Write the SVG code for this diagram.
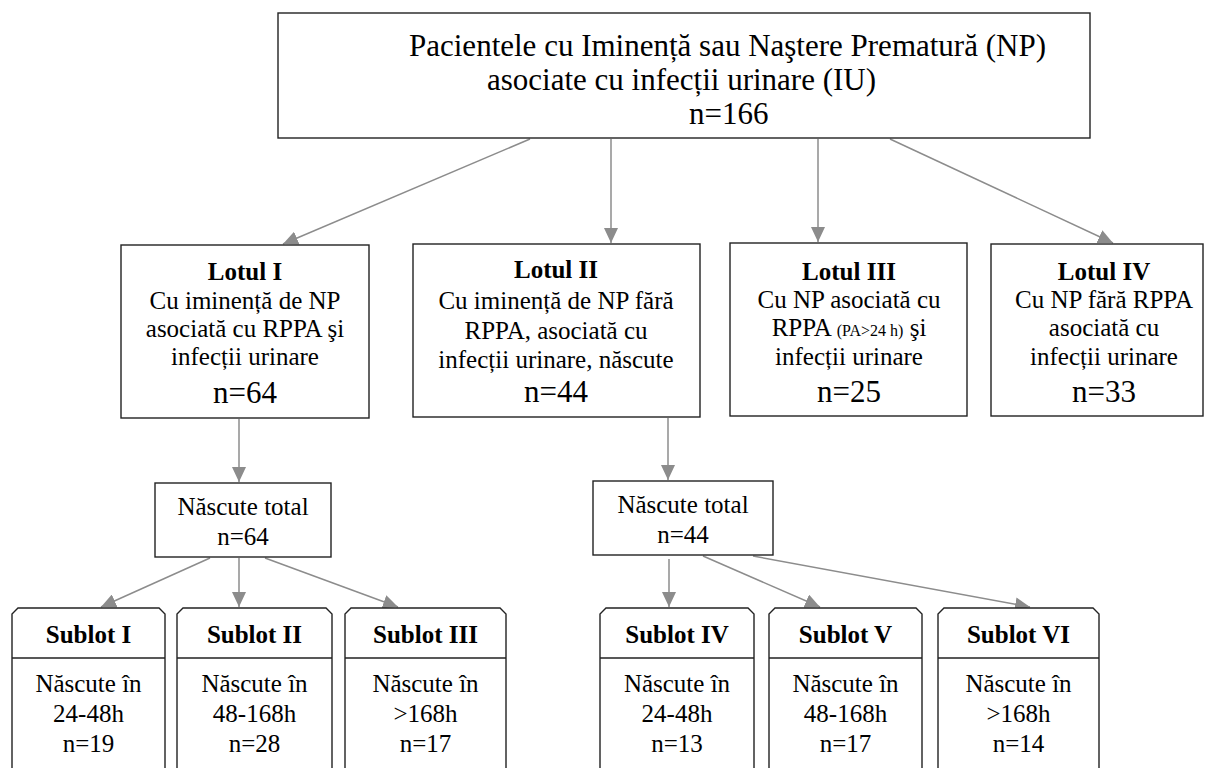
<svg xmlns="http://www.w3.org/2000/svg" width="1214" height="768" viewBox="0 0 1214 768">
<style>
.box{fill:#fff;stroke:#222;stroke-width:1.4}
.t{font-family:"Liberation Serif","Times New Roman",serif;fill:#000;font-size:25px}
.c{text-anchor:middle}
.b{font-weight:bold}
.big{font-size:31px}
.small{font-size:16px}
.con line{stroke:#8c8c8c;stroke-width:1.5;fill:none;marker-end:url(#ah)}
</style>
<defs>
<marker id="ah" markerUnits="userSpaceOnUse" markerWidth="16" markerHeight="14" refX="15" refY="7" orient="auto">
<path d="M0,0 L15,7 L0,14 Z" fill="#8c8c8c"/>
</marker>
</defs>
<rect width="1214" height="768" fill="#fff"/>

<g class="con" id="connectors">
<line x1="530" y1="139" x2="283" y2="244"/>
<line x1="611" y1="139" x2="611" y2="243"/>
<line x1="818" y1="139" x2="818" y2="242"/>
<line x1="890" y1="139" x2="1113" y2="243"/>
<line x1="239" y1="419" x2="239" y2="482"/>
<line x1="668" y1="418" x2="668" y2="480"/>
<line x1="210" y1="558" x2="101" y2="607"/>
<line x1="239" y1="558" x2="239" y2="607"/>
<line x1="265" y1="558" x2="398" y2="607"/>
<line x1="669" y1="559" x2="669" y2="607"/>
<line x1="703" y1="556" x2="820" y2="607"/>
<line x1="753" y1="556" x2="1030" y2="607"/>
</g>

<g id="root">
<rect class="box" x="278" y="13" width="812" height="125"/>
<text class="t big" x="409" y="56">Pacientele cu Iminență sau Naştere Prematură (NP)</text>
<text class="t big" x="487" y="90">asociate cu infecții urinare (IU)</text>
<text class="t big" x="689" y="124">n=166</text>
</g>

<g id="lotul1">
<rect class="box" x="121" y="245" width="248" height="173"/>
<text class="t c b" x="245" y="280">Lotul I</text>
<text class="t c" x="245" y="309">Cu iminență de NP</text>
<text class="t c" x="245" y="337">asociată cu RPPA şi</text>
<text class="t c" x="245" y="365">infecții urinare</text>
<text class="t c big" x="245" y="403">n=64</text>
</g>

<g id="lotul2">
<rect class="box" x="413" y="244" width="287" height="173"/>
<text class="t c b" x="556" y="278">Lotul II</text>
<text class="t c" x="556" y="309">Cu iminență de NP fără</text>
<text class="t c" x="556" y="339">RPPA, asociată cu</text>
<text class="t c" x="556" y="368">infecții urinare, născute</text>
<text class="t c big" x="556" y="402">n=44</text>
</g>

<g id="lotul3">
<rect class="box" x="730" y="243" width="237" height="173"/>
<text class="t c b" x="849" y="280">Lotul III</text>
<text class="t c" x="849" y="308">Cu NP asociată cu</text>
<text class="t c" x="849" y="336">RPPA <tspan class="small">(PA&gt;24 h)</tspan> şi</text>
<text class="t c" x="849" y="365">infecții urinare</text>
<text class="t c big" x="849" y="402">n=25</text>
</g>

<g id="lotul4">
<rect class="box" x="991" y="244" width="212" height="172"/>
<text class="t c b" x="1104" y="280">Lotul IV</text>
<text class="t c" x="1104" y="308">Cu NP fără RPPA</text>
<text class="t c" x="1104" y="336">asociată cu</text>
<text class="t c" x="1104" y="365">infecții urinare</text>
<text class="t c big" x="1104" y="402">n=33</text>
</g>

<g id="total1">
<rect class="box" x="155" y="483" width="176" height="74"/>
<text class="t c" x="243" y="515">Născute total</text>
<text class="t c" x="243" y="545">n=64</text>
</g>

<g id="total2">
<rect class="box" x="593" y="481" width="180" height="74"/>
<text class="t c" x="683" y="513">Născute total</text>
<text class="t c" x="683" y="543">n=44</text>
</g>

<g id="sublot1">
<path class="box" d="M12,775 L12,614 L18,608 L159,608 L165,614 L165,775 Z M12,658 L165,658"/>
<text class="t c b" x="88.5" y="643">Sublot I</text>
<text class="t c" x="88.5" y="692">Născute în</text>
<text class="t c" x="88.5" y="722">24-48h</text>
<text class="t c" x="88.5" y="752">n=19</text>
</g>

<g id="sublot2">
<path class="box" d="M177,775 L177,614 L183,608 L326,608 L332,614 L332,775 Z M177,658 L332,658"/>
<text class="t c b" x="254.5" y="643">Sublot II</text>
<text class="t c" x="254.5" y="692">Născute în</text>
<text class="t c" x="254.5" y="722">48-168h</text>
<text class="t c" x="254.5" y="752">n=28</text>
</g>

<g id="sublot3">
<path class="box" d="M345,775 L345,614 L351,608 L500,608 L506,614 L506,775 Z M345,658 L506,658"/>
<text class="t c b" x="425.5" y="643">Sublot III</text>
<text class="t c" x="425.5" y="692">Născute în</text>
<text class="t c" x="425.5" y="722">&gt;168h</text>
<text class="t c" x="425.5" y="752">n=17</text>
</g>

<g id="sublot4">
<path class="box" d="M600,775 L600,614 L606,608 L748,608 L754,614 L754,775 Z M600,658 L754,658"/>
<text class="t c b" x="677" y="643">Sublot IV</text>
<text class="t c" x="677" y="692">Născute în</text>
<text class="t c" x="677" y="722">24-48h</text>
<text class="t c" x="677" y="752">n=13</text>
</g>

<g id="sublot5">
<path class="box" d="M769,775 L769,614 L775,608 L916,608 L922,614 L922,775 Z M769,658 L922,658"/>
<text class="t c b" x="845.5" y="643">Sublot V</text>
<text class="t c" x="845.5" y="692">Născute în</text>
<text class="t c" x="845.5" y="722">48-168h</text>
<text class="t c" x="845.5" y="752">n=17</text>
</g>

<g id="sublot6">
<path class="box" d="M938,775 L938,614 L944,608 L1093,608 L1099,614 L1099,775 Z M938,658 L1099,658"/>
<text class="t c b" x="1018.5" y="643">Sublot VI</text>
<text class="t c" x="1018.5" y="692">Născute în</text>
<text class="t c" x="1018.5" y="722">&gt;168h</text>
<text class="t c" x="1018.5" y="752">n=14</text>
</g>
</svg>
